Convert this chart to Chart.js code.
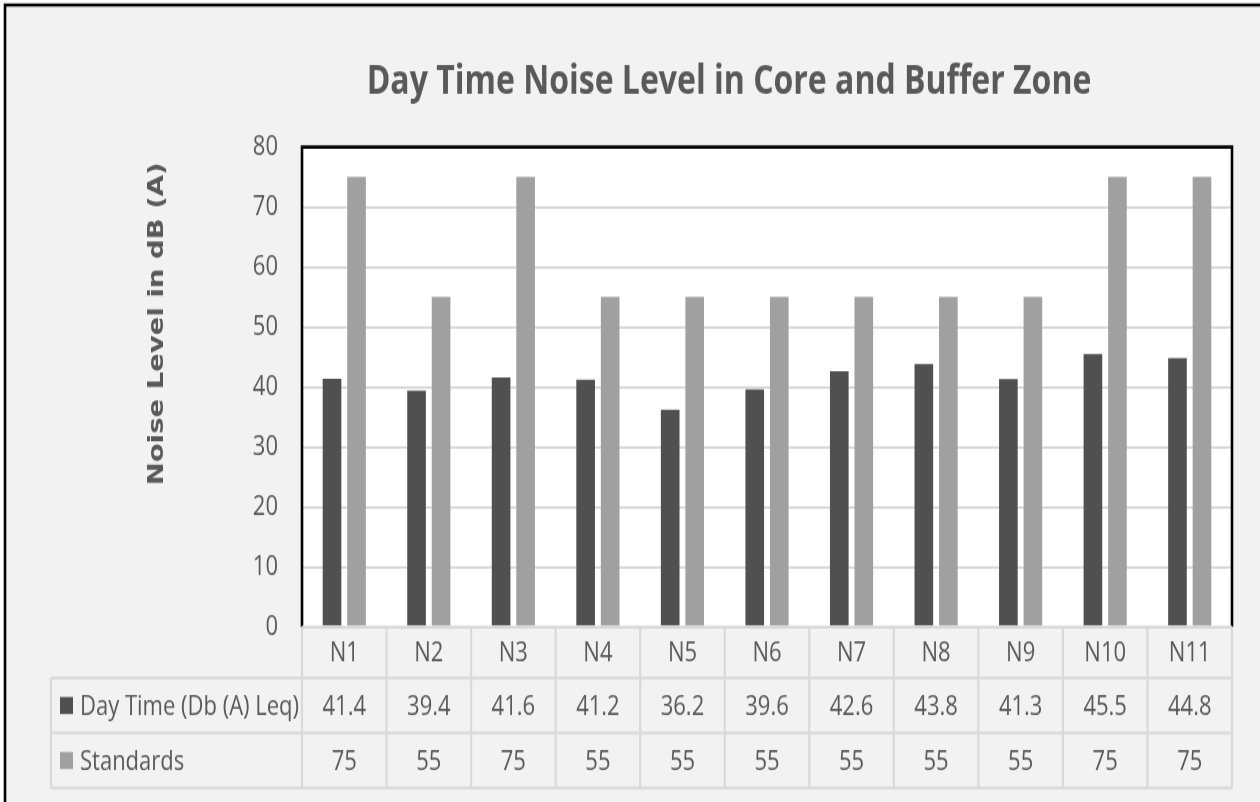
<!DOCTYPE html>
<html>
<head>
<meta charset="utf-8">
<title>Day Time Noise Level in Core and Buffer Zone</title>
<script src="https://cdn.jsdelivr.net/npm/chart.js@4/dist/chart.umd.min.js"></script>
<style>
  html, body { margin: 0; padding: 0; background: #fff; }
  #page { position: relative; width: 1260px; height: 802px; overflow: hidden; }
  /* the chart is drawn short and stretched to full height, which gives the tall, narrow lettering */
  #wrap { position: absolute; left: 0; top: 0; width: 1260px; height: 642px;
          transform: scale(1, 1.25); transform-origin: 0 0; }
</style>
</head>
<body>
<div id="page"><div id="wrap"><canvas id="noiseChart" width="1260" height="642"></canvas></div></div>
<script>
// monitoring stations and measured levels
var stations = ['N1', 'N2', 'N3', 'N4', 'N5', 'N6', 'N7', 'N8', 'N9', 'N10', 'N11'];
var dayTime = [41.4, 39.4, 41.6, 41.2, 36.2, 39.6, 42.6, 43.8, 41.3, 45.5, 44.8];
var standards = [75, 55, 75, 55, 55, 55, 55, 55, 55, 75, 75];
var seriesNames = ['Day Time (Db (A) Leq)', 'Standards'];

var chartTitle = 'Day Time Noise Level in Core and Buffer Zone';
var yTitle = 'Noise Level in dB (A)';

var SANS = "'Open Sans', 'Noto Sans', sans-serif";
var TEXT = '#595959';
var LINE = '#d9d9d9';

// background, plot frame and the two titles
var framePlugin = {
    id: 'frame',
    beforeDraw: function(chart) {
        var c = chart.ctx, a = chart.chartArea;
        c.save();
        c.fillStyle = '#fff';
        c.fillRect(0, 0, chart.width, chart.height);
        c.fillStyle = '#f2f2f2';
        c.fillRect(5, 4, chart.width, chart.height);
        c.strokeStyle = '#000';
        c.lineWidth = 2.6;
        c.beginPath();
        c.moveTo(5, chart.height);
        c.lineTo(5, 4);
        c.lineTo(chart.width, 4);
        c.stroke();
        c.fillStyle = '#fff';
        c.fillRect(a.left, a.top, a.right - a.left, a.bottom - a.top);

        c.fillStyle = TEXT;
        c.font = 'bold 32px ' + SANS;
        c.textAlign = 'center';
        c.textBaseline = 'alphabetic';
        c.fillText(chartTitle, 729, 75);

        c.translate(157, 259);
        c.rotate(-Math.PI / 2);
        c.font = "bold 22px 'DejaVu Sans', Verdana, sans-serif";
        c.textBaseline = 'middle';
        c.fillText(yTitle, 0, 0);
        c.restore();
    },
    afterDatasetsDraw: function(chart) {
        var c = chart.ctx, a = chart.chartArea;
        c.save();
        c.strokeStyle = '#000';
        c.lineWidth = 2.6;
        c.beginPath();
        c.moveTo(a.left, a.bottom);
        c.lineTo(a.left, a.top);
        c.lineTo(a.right, a.top);
        c.lineTo(a.right, a.bottom);
        c.stroke();
        c.restore();
    }
};

// data table under the plot, one column per station
var tablePlugin = {
    id: 'dataTable',
    afterDraw: function(chart) {
        var c = chart.ctx, a = chart.chartArea, x = chart.scales.x;
        var half = (a.right - a.left) / stations.length / 2;
        var rowTop = [a.bottom, 542.4, 586.4, 630.4];
        var labelLeft = 51;
        var rows = [dayTime, standards];
        var colors = chart.data.datasets.map(function(d) { return d.backgroundColor; });

        c.save();
        c.strokeStyle = LINE;
        c.lineWidth = 2.2;
        c.beginPath();
        // horizontal rules
        c.moveTo(a.left, rowTop[0]); c.lineTo(a.right, rowTop[0]);
        for (var r = 1; r < rowTop.length; r++) {
            c.moveTo(labelLeft, rowTop[r]); c.lineTo(a.right, rowTop[r]);
        }
        // vertical rules
        c.moveTo(labelLeft, rowTop[1]); c.lineTo(labelLeft, rowTop[3]);
        for (var i = 0; i <= stations.length; i++) {
            var vx = a.left + i * half * 2;
            c.moveTo(vx, rowTop[0]); c.lineTo(vx, rowTop[3]);
        }
        c.stroke();

        c.fillStyle = TEXT;
        c.font = '22px ' + SANS;
        c.textAlign = 'center';
        c.textBaseline = 'middle';
        stations.forEach(function(s, i) {
            var cx = x.getPixelForValue(i);
            c.fillText(s, cx, (rowTop[0] + rowTop[1]) / 2 + 1);
            rows.forEach(function(vals, k) {
                c.fillText(String(vals[i]), cx, (rowTop[k + 1] + rowTop[k + 2]) / 2 + 1);
            });
        });

        c.textAlign = 'left';
        seriesNames.forEach(function(name, k) {
            var cy = (rowTop[k + 1] + rowTop[k + 2]) / 2;
            c.fillStyle = colors[k];
            c.fillRect(60, cy - 6.8, 13, 13.6);
            c.fillStyle = TEXT;
            c.fillText(name, 80, cy + 1);
        });
        c.restore();
    }
};

var ctx = document.getElementById('noiseChart').getContext('2d');
var noiseChart = new Chart(ctx, {
    type: 'bar',
    data: {
        labels: stations,
        datasets: [{
            label: seriesNames[0],
            data: dayTime,
            backgroundColor: '#505050',
            categoryPercentage: 0.58,
            barPercentage: 0.76
        },
        {
            label: seriesNames[1],
            data: standards,
            backgroundColor: '#a0a0a0',
            categoryPercentage: 0.58,
            barPercentage: 0.76
        }]
    },
    options: {
        responsive: false,
        animation: false,
        devicePixelRatio: 1,
        layout: {
            padding: { top: 117.6, left: 140, right: 28, bottom: 140.4 }
        },
        plugins: {
            legend: { display: false },
            tooltip: { enabled: false },
            title: { display: false }
        },
        scales: {
            x: { display: false },
            y: {
                min: 0,
                max: 80,
                afterFit: function(scale) { scale.width = 162; },
                ticks: {
                    stepSize: 10,
                    color: TEXT,
                    padding: 24,
                    font: { family: SANS, size: 22 }
                },
                grid: { color: LINE, lineWidth: 2, drawTicks: false },
                border: { display: false }
            }
        }
    },
    plugins: [framePlugin, tablePlugin]
});
</script>
</body>
</html>
